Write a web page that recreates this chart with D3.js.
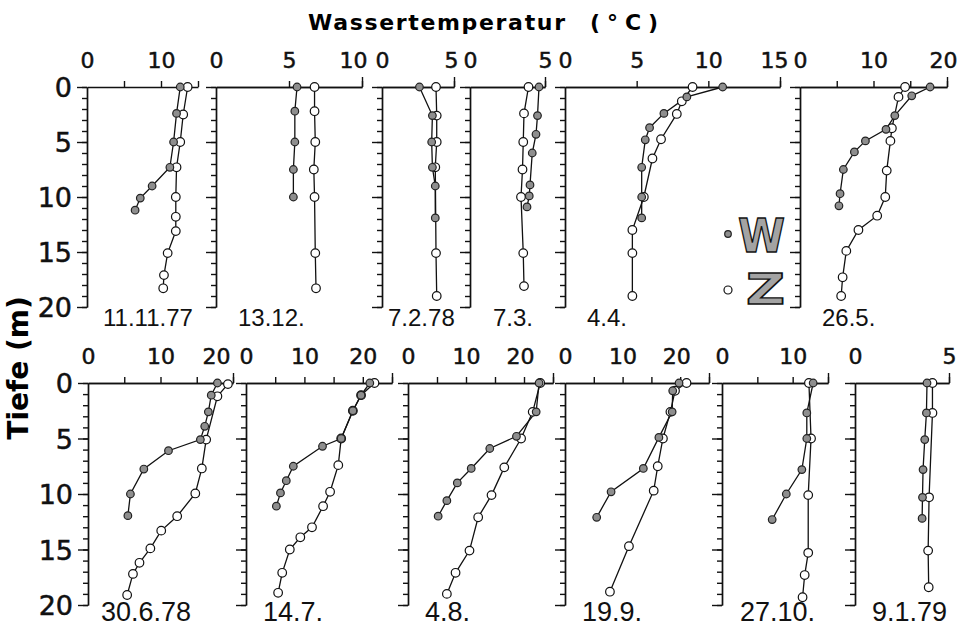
<!DOCTYPE html>
<html>
<head>
<meta charset="utf-8">
<script src="https://cdn.jsdelivr.net/npm/d3@7"></script>
<style>
body { margin: 0; background: #fff; }
</style>
</head>
<body>
<div id="chart"></div>
<script>
// date under each panel
const dates = ["11.11.77", "13.12.", "7.2.78", "7.3.", "4.4.", "26.5.",
               "30.6.78", "14.7.", "4.8.", "19.9.", "27.10.", "9.1.79"];

// temperature axis end and labelled ticks per panel
const tempMax = [15, 10, 5, 5, 15, 20, 20, 25, 25, 25, 15, 5];
const tempLabels = [[0, 10], [0, 5, 10], [0, 5], [0, 5], [0, 5, 10, 15], [0, 10, 20],
                    [0, 10, 20], [0, 10, 20], [0, 10, 20], [0, 10, 20], [0, 10], [0, 5]];
const depthLabels = [0, 5, 10, 15, 20];

// profiles W (filled) and Z (open): [temperature C, depth m]
const wProfiles = [
  [[12.6, 0], [12.1, 2.4], [11.7, 5], [11.2, 7.3], [8.8, 9], [7.2, 10.1], [6.5, 11.2]],
  [[5.55, 0], [5.4, 2.2], [5.4, 5], [5.3, 7.5], [5.3, 10]],
  [[2.6, 0], [3.5, 2.6], [3.45, 5], [3.5, 7.3], [3.7, 9], [3.7, 11.9]],
  [[4.6, 0], [4.5, 2.6], [4.4, 4.3], [4.15, 6], [4.0, 8.9], [3.95, 9.9], [3.8, 10.9]],
  [[11.0, 0], [8.5, 0.9], [6.9, 2.4], [5.9, 3.7], [5.6, 4.8], [5.35, 7.3], [5.35, 10], [5.35, 11.9]],
  [[17.7, 0], [15.2, 0.8], [12.9, 2.6], [11.7, 3.85], [8.9, 4.9], [7.4, 5.9], [5.9, 7.5], [5.45, 9.7], [5.3, 10.8]],
  [[17.85, 0], [17.0, 1.1], [16.6, 2.6], [16.1, 3.9], [15.5, 5.1], [11.1, 6.1], [7.7, 7.75], [5.85, 10], [5.5, 11.95]],
  [[21.2, 0], [19.7, 1.1], [18.3, 2.5], [16.3, 5], [13.1, 5.7], [8.1, 7.5], [6.9, 8.8], [5.9, 9.9], [5.2, 11.1]],
  [[22.6, 0], [22.1, 2.6], [18.7, 4.8], [14.1, 5.9], [10.9, 7.7], [8.5, 9.0], [6.7, 10.6], [5.2, 12]],
  [[19.8, 0], [18.7, 0.7], [18.6, 2.6], [16.3, 4.9], [13.6, 7.7], [8.0, 9.8], [5.5, 12.1]],
  [[12.9, 0], [12.0, 2.7], [12.0, 5.0], [11.3, 7.8], [9.1, 10.0], [7.1, 12.3]],
  [[3.83, 0], [3.8, 2.7], [3.71, 5.1], [3.62, 7.8], [3.59, 10.3], [3.57, 12.2]]
];
const zProfiles = [
  [[13.6, 0], [13.0, 2.5], [12.6, 5], [12.1, 7.3], [12.0, 10], [12.0, 11.8], [12.0, 13.1], [10.9, 15.1], [10.4, 17.1], [10.3, 18.3]],
  [[6.75, 0], [6.75, 2.2], [6.8, 5], [6.7, 7.5], [6.75, 10], [6.8, 15.1], [6.85, 18.3]],
  [[3.75, 0], [3.8, 2.6], [3.8, 5], [3.7, 7.3], [3.75, 15.1], [3.8, 19]],
  [[3.9, 0], [3.6, 2.4], [3.55, 5], [3.5, 7.5], [3.4, 10], [3.55, 15.1], [3.6, 18.1]],
  [[8.9, 0], [8.15, 1.3], [7.8, 2.45], [6.7, 4.75], [6.1, 6.5], [5.5, 10], [4.7, 13], [4.7, 15.1], [4.7, 19]],
  [[14.3, 0], [13.4, 0.9], [12.5, 3.75], [12.3, 4.9], [11.8, 7.6], [11.6, 10], [10.5, 11.7], [7.95, 13], [6.3, 14.9], [5.8, 17.3], [5.6, 19]],
  [[19.3, 0.1], [17.85, 1.2], [16.3, 5.1], [15.7, 7.7], [14.8, 9.95], [12.3, 12], [10.1, 13.3], [8.6, 14.9], [7.1, 16.2], [6.2, 17.2], [5.4, 19.1]],
  [[22.0, 0], [19.7, 1.1], [18.3, 2.5], [16.3, 5], [15.8, 7.4], [14.4, 9.8], [13.2, 11.1], [11.3, 13], [9.3, 13.9], [7.5, 15], [6.2, 17.1], [5.5, 18.9]],
  [[22.8, 0], [21.5, 2.6], [19.5, 5.0], [16.6, 7.6], [14.4, 10.1], [12.1, 12.1], [10.6, 15.1], [8.2, 17.1], [6.7, 19]],
  [[21.1, 0], [19.1, 0.7], [18.3, 2.6], [17.0, 5.0], [16.1, 7.5], [15.4, 9.7], [11.1, 14.7], [7.8, 18.8]],
  [[12.3, 0], [12.6, 5.0], [12.2, 10.1], [12.2, 15.3], [11.7, 17.3], [11.4, 19.3]],
  [[4.12, 0], [4.12, 2.7], [3.94, 10.3], [3.89, 15.1], [3.92, 18.4]]
];

// layout of the panels (pixels)
const panels = [
  {x0: 87,  x1: 198, y0: 87,  y1: 307, endTick: false, lastDx: 0,   lx: 103, ly: 326, fs: 24},
  {x0: 216, x1: 362, y0: 87,  y1: 307, endTick: true,  lastDx: -9,  lx: 238, ly: 326, fs: 24},
  {x0: 382, x1: 454, y0: 87,  y1: 307, endTick: true,  lastDx: -3,  lx: 388, ly: 326, fs: 24},
  {x0: 470, x1: 545, y0: 87,  y1: 307, endTick: true,  lastDx: 0,   lx: 493, ly: 326, fs: 24},
  {x0: 565, x1: 780, y0: 87,  y1: 307, endTick: true,  lastDx: -6,  lx: 587, ly: 326, fs: 24},
  {x0: 800, x1: 947, y0: 87,  y1: 307, endTick: true,  lastDx: -4,  lx: 822, ly: 326, fs: 24},
  {x0: 88,  x1: 233, y0: 383, y1: 605, endTick: true,  lastDx: -17, lx: 101, ly: 621, fs: 27},
  {x0: 246, x1: 392, y0: 383, y1: 605, endTick: true,  lastDx: 0,   lx: 263, ly: 621, fs: 27},
  {x0: 408, x1: 553, y0: 383, y1: 605, endTick: true,  lastDx: -4,  lx: 425, ly: 621, fs: 27},
  {x0: 565, x1: 709, y0: 383, y1: 605, endTick: true,  lastDx: -4,  lx: 582, ly: 621, fs: 27},
  {x0: 722, x1: 828, y0: 383, y1: 605, endTick: true,  lastDx: 0,   lx: 740, ly: 621, fs: 27},
  {x0: 855, x1: 949, y0: 383, y1: 605, endTick: true,  lastDx: 0,   lx: 872, ly: 621, fs: 27}
];

const svg = d3.select("#chart")
  .append("svg")
  .attr("width", 963)
  .attr("height", 627);

// title and axis name
svg.append("text")
  .attr("x", 308).attr("y", 30)
  .attr("textLength", 257).attr("lengthAdjust", "spacing")
  .style("font-family", "DejaVu Sans").style("font-weight", "bold").style("font-size", "22px")
  .text("Wassertemperatur");
svg.append("text")
  .attr("x", 590).attr("y", 30)
  .attr("textLength", 68).attr("lengthAdjust", "spacing")
  .style("font-family", "DejaVu Sans").style("font-weight", "bold").style("font-size", "22px")
  .text("(°C)");
svg.append("text")
  .attr("transform", "translate(28,368) rotate(-90)")
  .attr("text-anchor", "middle")
  .style("font-family", "DejaVu Sans").style("font-weight", "bold").style("font-size", "28px")
  .text("Tiefe (m)");

function styleAxis(sel) {
  sel.attr("font-family", "DejaVu Sans").attr("font-size", null);
  sel.selectAll("path, line").attr("stroke", "#111").attr("stroke-width", 1.4);
}

panels.forEach(function(p, i) {
  const x = d3.scaleLinear().domain([0, tempMax[i]]).range([p.x0, p.x1]);
  const y = d3.scaleLinear().domain([0, 20]).range([p.y0, p.y1]);
  const g = svg.append("g");

  // temperature axis on top, ticks every 5
  g.append("g")
    .attr("transform", "translate(0," + p.y0 + ")")
    .call(d3.axisTop(x).tickValues(d3.range(5, tempMax[i] + 0.1, 5)).tickSize(6).tickSizeOuter(0).tickFormat(""))
    .call(styleAxis);
  if (p.endTick) {
    g.append("g")
      .attr("transform", "translate(0," + p.y0 + ")")
      .call(d3.axisTop(x).tickValues([tempMax[i]]).tickSize(10).tickSizeOuter(0).tickFormat(""))
      .call(styleAxis);
  }
  // temperature labels
  const lab = g.append("g")
    .attr("transform", "translate(0," + p.y0 + ")")
    .call(d3.axisTop(x).tickValues(tempLabels[i]).tickSize(0).tickPadding(19).tickFormat(d3.format("d")))
    .call(styleAxis);
  lab.select(".domain").remove();
  lab.selectAll("text").style("font-size", "22px").attr("fill", "#111")
    .attr("stroke", "#111").attr("stroke-width", 0.5)
    .attr("dx", function(d, j) { return j === tempLabels[i].length - 1 ? p.lastDx : 0; });

  // depth axis: minor ticks every metre, major every 5 m
  g.append("g")
    .attr("transform", "translate(" + p.x0 + ",0)")
    .call(d3.axisLeft(y).tickValues(d3.range(0, 21, 1)).tickSize(5).tickSizeOuter(0).tickFormat(""))
    .call(styleAxis);
  const major = g.append("g")
    .attr("transform", "translate(" + p.x0 + ",0)")
    .call(d3.axisLeft(y).tickValues(depthLabels).tickSize(10).tickSizeOuter(0).tickPadding(5)
      .tickFormat(i % 6 === 0 ? d3.format("d") : ""))
    .call(styleAxis);
  major.selectAll("text").style("font-size", "27px").attr("fill", "#111")
    .attr("stroke", "#111").attr("stroke-width", 0.5).attr("dy", "0.36em");

  // profile lines
  const line = d3.line().x(d => x(d[0])).y(d => y(d[1]));
  g.append("path").datum(zProfiles[i]).attr("d", line)
    .attr("fill", "none").attr("stroke", "#111").attr("stroke-width", 1.3);
  g.append("path").datum(wProfiles[i]).attr("d", line)
    .attr("fill", "none").attr("stroke", "#111").attr("stroke-width", 1.3);

  g.selectAll(".z").data(zProfiles[i]).enter().append("circle")
    .attr("cx", d => x(d[0])).attr("cy", d => y(d[1])).attr("r", 4.3)
    .attr("fill", "#fff").attr("stroke", "#111").attr("stroke-width", 1.2);
  g.selectAll(".w").data(wProfiles[i]).enter().append("circle")
    .attr("cx", d => x(d[0])).attr("cy", d => y(d[1])).attr("r", 3.8)
    .attr("fill", "#8e8e8e").attr("stroke", "#222").attr("stroke-width", 1.2);

  // date
  g.append("text")
    .attr("x", p.lx).attr("y", p.ly)
    .style("font-family", "Liberation Sans").style("font-size", p.fs + "px").attr("fill", "#111")
    .text(dates[i]);
});

// legend
svg.append("circle").attr("cx", 728).attr("cy", 234).attr("r", 3.3)
  .attr("fill", "#8e8e8e").attr("stroke", "#222").attr("stroke-width", 1.2);
svg.append("text").attr("x", 738).attr("y", 252)
  .attr("textLength", 47).attr("lengthAdjust", "spacingAndGlyphs")
  .style("font-family", "DejaVu Sans").style("font-weight", "bold").style("font-size", "47px")
  .attr("fill", "#a3a3a3").attr("stroke", "#111").attr("stroke-width", 1.4)
  .text("W");
svg.append("circle").attr("cx", 728).attr("cy", 290).attr("r", 4)
  .attr("fill", "#fff").attr("stroke", "#111").attr("stroke-width", 1.2);
svg.append("text").attr("x", 746).attr("y", 304)
  .attr("textLength", 39).attr("lengthAdjust", "spacingAndGlyphs")
  .style("font-family", "DejaVu Sans").style("font-weight", "bold").style("font-size", "42px")
  .attr("fill", "#a3a3a3").attr("stroke", "#111").attr("stroke-width", 1.4)
  .text("Z");
</script>
</body>
</html>
